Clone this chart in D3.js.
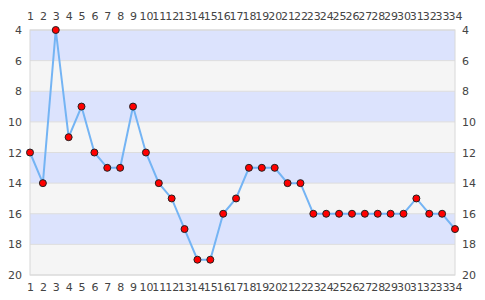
<!DOCTYPE html>
<html>
<head>
<meta charset="utf-8">
<script src="https://cdn.jsdelivr.net/npm/d3@7"></script>
<style>
  body { margin: 0; background: #fff; }
  text { font-family: "DejaVu Sans", sans-serif; font-size: 11px; fill: #444; }
</style>
</head>
<body>
<svg id="chart" width="485" height="300"></svg>
<script>
// positions 1..34 and the value at each
const positions = d3.range(1, 35);
const values = [12, 14, 4, 11, 9, 12, 13, 13, 9, 12, 14, 15, 17, 19, 19, 16, 15,
    13, 13, 13, 14, 14, 16, 16, 16, 16, 16, 16, 16, 16, 15, 16, 16, 17];
const yTicks = [4, 6, 8, 10, 12, 14, 16, 18, 20];
const bands = [[4, 6], [6, 8], [8, 10], [10, 12], [12, 14], [14, 16], [16, 18], [18, 20]];

let margin = { top: 30, right: 30, bottom: 25, left: 30 };
let width = 485, height = 300;
let innerW = width - margin.left - margin.right;
let innerH = height - margin.top - margin.bottom;

const svg = d3.select("#chart");
const g = svg.append("g")
    .attr("transform", `translate(${margin.left}, ${margin.top})`);

let x = d3.scaleLinear().domain([1, 34]).range([0, innerW]);
let y = d3.scaleLinear().domain([4, 20]).range([0, innerH]);

// alternating bands
g.selectAll("rect.band")
    .data(bands)
    .join("rect")
    .attr("class", "band")
    .attr("x", 0)
    .attr("width", innerW)
    .attr("y", d => y(d[0]))
    .attr("height", d => y(d[1]) - y(d[0]))
    .attr("fill", (d, i) => i % 2 === 0 ? "#dce3fd" : "#f5f5f5");

g.selectAll("line.grid")
    .data(yTicks)
    .join("line")
    .attr("class", "grid")
    .attr("x1", 0).attr("x2", innerW)
    .attr("y1", d => y(d)).attr("y2", d => y(d))
    .attr("stroke", "#dddddd");

g.append("rect")
    .attr("width", innerW).attr("height", innerH)
    .attr("fill", "none").attr("stroke", "#d8d8d8");

// axes (labels only)
const xTop = d3.axisTop(x).tickValues(positions).tickSize(0).tickPadding(10).tickFormat(d3.format("d"));
const xBottom = d3.axisBottom(x).tickValues(positions).tickSize(0).tickPadding(8).tickFormat(d3.format("d"));
const yLeft = d3.axisLeft(y).tickValues(yTicks).tickSize(0).tickPadding(8);
const yRight = d3.axisRight(y).tickValues(yTicks).tickSize(0).tickPadding(7);

[
    g.append("g").call(xTop),
    g.append("g").attr("transform", `translate(0, ${innerH})`).call(xBottom),
    g.append("g").call(yLeft),
    g.append("g").attr("transform", `translate(${innerW}, 0)`).call(yRight)
].forEach(a => {
    a.select(".domain").remove();
    a.selectAll("text").style("font-family", "DejaVu Sans, sans-serif").style("font-size", "11px").attr("fill", "#444");
});

const pts = positions.map((p, i) => ({ p: p, v: values[i] }));

g.append("path")
    .datum(pts)
    .attr("fill", "none")
    .attr("stroke", "#74b4f4")
    .attr("stroke-width", 2)
    .attr("d", d3.line().x(d => x(d.p)).y(d => y(d.v)));

g.selectAll("circle")
    .data(pts)
    .join("circle")
    .attr("cx", d => x(d.p))
    .attr("cy", d => y(d.v))
    .attr("r", 3.5)
    .attr("fill", "#ff0000")
    .attr("stroke", "#222")
    .attr("stroke-width", 1);
</script>
</body>
</html>
